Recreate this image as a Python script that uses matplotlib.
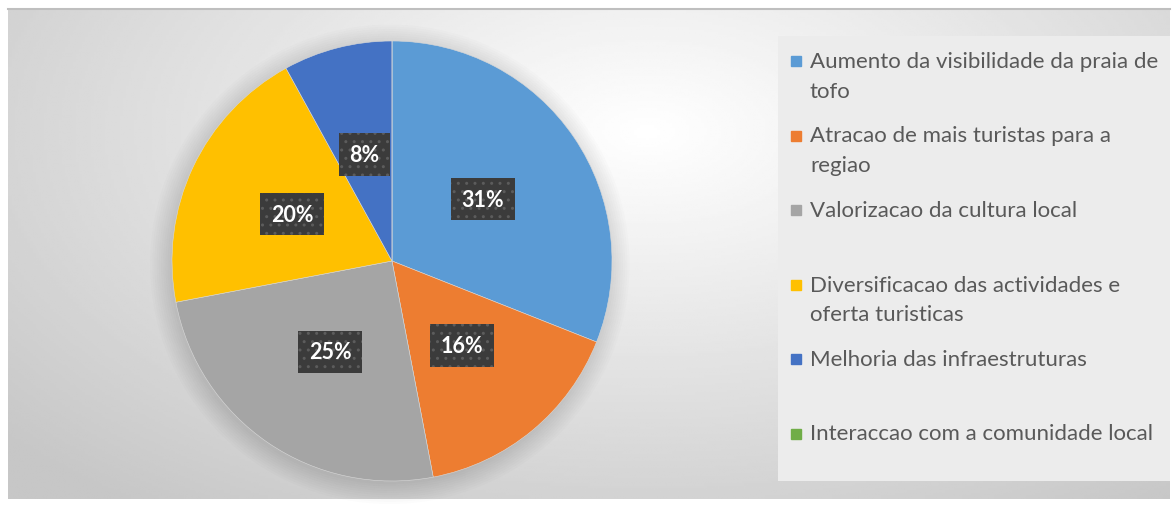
import numpy as np
import matplotlib.pyplot as plt
from matplotlib.patches import Rectangle, Circle

# dados do grafico
categorias = [
    "Aumento da visibilidade da praia de\ntofo",
    "Atracao de mais turistas para a\nregiao",
    "Valorizacao da cultura local",
    "Diversificacao das actividades e\noferta turisticas",
    "Melhoria das infraestruturas",
    "Interaccao com a comunidade local",
]
percentagens = [31, 16, 25, 20, 8, 0]
cores = ["#5B9BD5", "#ED7D31", "#A5A5A5", "#FFC000", "#4472C4", "#70AD47"]

W, H = 1175, 506
fig = plt.figure(figsize=(W / 100, H / 100), dpi=100)
fig.patch.set_facecolor("white")

# fundo com gradiente radial
bg = fig.add_axes([8 / W, 6 / H, 1162 / W, 490 / H])
yy, xx = np.mgrid[0:1:200j, 0:1:400j]
r = np.sqrt(((xx - 0.55) / 1.0) ** 2 + ((yy - 0.75) / 1.3) ** 2)
val = np.clip(1.0 - 0.3 * r, 0.78, 1.0)
bg.imshow(val, cmap="gray", vmin=0, vmax=1, extent=[0, 1, 0, 1], aspect="auto", origin="lower")
bg.set_axis_off()
bg.plot([0, 1], [1, 1], color="#bfbfbf", lw=1.5, transform=bg.transAxes, clip_on=False)

# pizza
ax = fig.add_axes([172 / W, 24 / H, 440 / W, 440 / H])
for k in range(10):
    ax.add_patch(Circle((-0.01, -0.015), 1.0 + k * 0.01, color="black",
                        alpha=0.01, lw=0, clip_on=False))

def rotulo(p):
    return "" if p < 0.5 else f"{p:.0f}%"

wedges, texts, autotexts = ax.pie(
    percentagens, colors=cores, startangle=90, counterclock=False,
    autopct=rotulo, pctdistance=0.5, radius=1,
    wedgeprops=dict(linewidth=0.4, edgecolor="#d9d9d9"),
)
for w in wedges:
    w.set_clip_on(False)
for t in autotexts:
    t.set_fontfamily("Lato")
    t.set_fontweight("bold")
    t.set_fontsize(15.5)
    t.set_color("white")
    t.set_bbox(dict(boxstyle="square,pad=0.5", facecolor="#3b3b3b",
                    edgecolor="#5c5c5c", hatch="..", linewidth=0))
ax.set_xlim(-1, 1)
ax.set_ylim(-1, 1)
ax.set_aspect("equal")
ax.set_axis_off()

# legenda
lg = fig.add_axes([778 / W, 24 / H, 392 / W, 445 / H])
lg.set_xlim(0, 392)
lg.set_ylim(445, 0)
lg.set_facecolor("#ececec")
lg.set_xticks([])
lg.set_yticks([])
for s in lg.spines.values():
    s.set_visible(False)
for i, (nome, cor) in enumerate(zip(categorias, cores)):
    y = 23 + 74.5 * i
    lg.add_patch(Rectangle((13, y - 3), 10, 10, color=cor))
    lg.text(32, y - 8, nome, fontsize=16, fontfamily="Lato", color="#595959",
            va="top", ha="left", linespacing=1.6)

fig.savefig("out.png", dpi=100)
